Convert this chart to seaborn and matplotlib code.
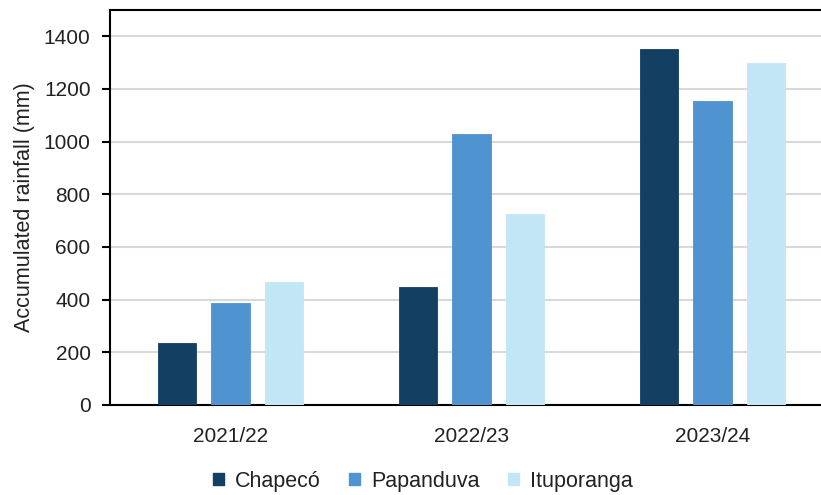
import matplotlib
matplotlib.use("Agg")
import matplotlib.pyplot as plt
import seaborn as sns
import pandas as pd
from matplotlib.patches import Patch

seasons = ["2021/22", "2022/23", "2023/24"]
sites = ["Chapecó", "Papanduva", "Ituporanga"]
chapeco = [236, 450, 1350]
papanduva = [387, 1030, 1153]
ituporanga = [468, 726, 1299]
colors = ["#123f62", "#4f94d0", "#c2e6f5"]

df = pd.DataFrame({
    "season": seasons * 3,
    "site": [sites[0]] * 3 + [sites[1]] * 3 + [sites[2]] * 3,
    "rain": chapeco + papanduva + ituporanga,
})

sns.set_style("white")
plt.rcParams["font.family"] = ["Liberation Sans", "DejaVu Sans"]

fig = plt.figure(figsize=(8.21, 4.95), dpi=100)
ax = fig.add_axes([110 / 821, 90 / 495, 723 / 821, 395 / 495])

sns.barplot(data=df, x="season", y="rain", hue="site", order=seasons,
            hue_order=sites, palette=colors, width=0.666, gap=0.28,
            ax=ax, legend=False, saturation=1, zorder=3)

for i, c in enumerate(colors):
    for bar in ax.containers[i]:
        bar.set_edgecolor(c)
        bar.set_linewidth(0.6)

ax.set_xlim(-0.5, 2.5)
ax.set_ylim(0, 1500)
ax.set_yticks(range(0, 1401, 200))
ax.grid(axis="y", color="#d9d9d9", linewidth=1.5, zorder=0)
ax.set_axisbelow(True)
for s in ["left", "bottom", "top"]:
    ax.spines[s].set_color("black")
    ax.spines[s].set_linewidth(1.5)
ax.spines["right"].set_visible(False)
ax.tick_params(axis="y", which="major", left=True, length=6, width=1.5,
               color="black", labelsize=15, labelcolor="#222222", pad=8)
ax.tick_params(axis="x", bottom=False, labelsize=15, labelcolor="#222222", pad=12)
ax.set_xlabel("")
ax.set_ylabel("Accumulated rainfall (mm)", fontsize=15.5, color="#222222", labelpad=6)

handles = [Patch(facecolor=c, edgecolor=c) for c in colors]
fig.legend(handles, sites, loc="center", bbox_to_anchor=(0.515, 14 / 495),
           ncol=3, frameon=False, fontsize=15.5, handlelength=0.5, handleheight=0.5,
           handletextpad=0.5, columnspacing=1.35, labelcolor="#222222")

fig.savefig("out.png", dpi=100)
